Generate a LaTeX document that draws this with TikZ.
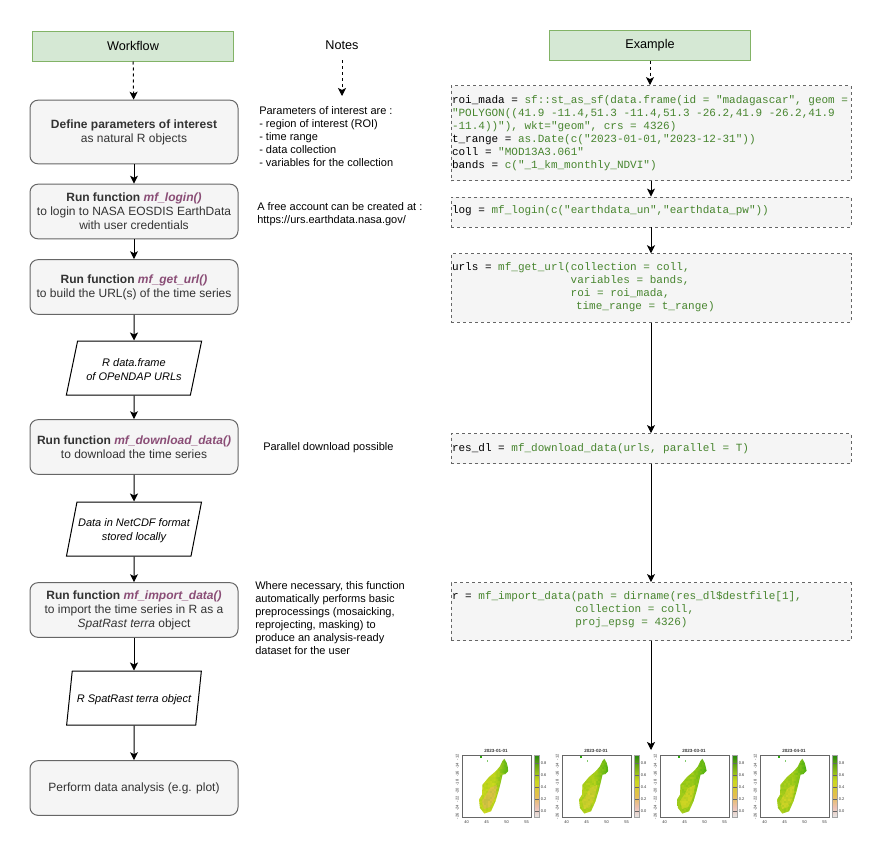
\documentclass[tikz,border=0pt]{standalone}
\usepackage{fontspec}
\setmainfont{Liberation Sans}
\setmonofont{Liberation Mono}
\usepackage{xcolor}
\usetikzlibrary{positioning,arrows.meta,shapes.geometric}

\definecolor{boxfill}{HTML}{F5F5F5}
\definecolor{boxline}{HTML}{666666}
\definecolor{boxtext}{HTML}{333333}
\definecolor{headfill}{HTML}{D5E8D4}
\definecolor{headline}{HTML}{82B366}
\definecolor{funcname}{HTML}{8A4D76}
\definecolor{codegreen}{HTML}{47852E}
\definecolor{mapgreen}{HTML}{2FA80E}
\definecolor{mapyellow}{HTML}{CBD81E}
\definecolor{maporange}{HTML}{E3BE4E}
\definecolor{mappink}{HTML}{EDBFB0}

\newcommand{\func}[1]{\textcolor{funcname}{\textbf{\textit{#1}}}}
\newcommand{\cg}[1]{\textcolor{codegreen}{#1}}
\newcommand{\lift}[1]{\rule[-#1]{0pt}{0pt}}
\newcommand{\drop}{\rule{0pt}{9pt}}
\newcommand{\islandpath}{(42.3,3.7) -- (44.7,8) -- (46.6,15.7) -- (43.5,19) -- (40.5,19.7) -- (39,26.3) -- (36.5,36.3) -- (33.5,46.3) -- (29,56.3) -- (22.3,58.5) -- (18,53) -- (17,44.7) -- (20,39.7) -- (20.5,29.7) -- (27,22) -- (34,16) -- (38,11.3) -- (40.3,6.3) -- cycle}

\tikzset{
    headbox/.style={draw=headline, fill=headfill, line width=0.75pt, minimum width=151pt, minimum height=22.5pt, inner sep=0pt, font=\fontsize{9.5}{11}\selectfont},
    stepbox/.style={draw=boxline, fill=boxfill, text=boxtext, rounded corners=6pt, line width=0.75pt, minimum width=156pt, inner sep=0pt, align=center, font=\fontsize{9}{10.5}\selectfont},
    databox/.style={draw=black, trapezium, trapezium left angle=70, trapezium right angle=110, trapezium stretches=true, line width=0.75pt, minimum width=102pt, minimum height=40.5pt, inner sep=0pt, align=center, font=\fontsize{8.25}{10.5}\selectfont\itshape},
    notetext/.style={anchor=west, align=left, inner sep=0pt, font=\fontsize{8.25}{9.75}\selectfont},
    codebox/.style={draw=boxline, fill=boxfill, dash pattern=on 2.25pt off 2.25pt, line width=0.6pt, minimum width=300pt, text width=298.5pt, inner sep=0.75pt, align=flush left, font=\fontsize{8.25}{9.75}\ttfamily},
    flow/.style={-{Stealth[length=6pt,width=6pt,inset=1.5pt]}, line width=0.75pt, black},
    flowdash/.style={flow, dash pattern=on 2.25pt off 2.25pt},
    maptext/.style={inner sep=0pt, text=boxtext, font=\fontsize{3}{3}\selectfont}
}

\begin{document}
\begin{tikzpicture}[x=0.75pt, y=-0.75pt]
    \useasboundingbox (0,0) rectangle (882,857);

    % Headers
    \node[headbox] (workflow) at (133,46) {Workflow};
    \node[inner sep=0pt, minimum height=22.5pt, font=\fontsize{9.5}{11}\selectfont] (notes) at (342,45) {Notes};
    \node[headbox] (example) at (650,45) {Example};

    % Workflow
    \node[stepbox, minimum height=47.75pt] (define) at (134,132) {\textbf{Define parameters of interest}\\as natural R objects};
    \node[stepbox, minimum height=41pt] (login) at (134,211.5) {\textbf{Run function} \func{mf\_login()}\\to login to NASA EOSDIS EarthData\\with user credentials};
    \node[stepbox, minimum height=41pt] (geturl) at (134,287) {\textbf{Run function} \func{mf\_get\_url()}\\to build the URL(s) of the time series};
    \node[databox] (urldf) at (134,368) {\drop R data.frame\\of OPeNDAP URLs};
    \node[stepbox, minimum height=41pt] (download) at (134,447) {\textbf{Run function} \func{mf\_download\_data()}\\to download the time series};
    \node[databox] (netcdf) at (134,529) {\drop Data in NetCDF format\\stored locally};
    \node[stepbox, minimum height=41pt] (import) at (134,610) {\textbf{Run function} \func{mf\_import\_data()}\\to import the time series in R as a\\\textit{SpatRast terra} object};
    \node[databox] (spatrast) at (134,698) {\drop R SpatRast terra object};
    \node[stepbox, minimum height=41pt] (analysis) at (134,788) {Perform data analysis (e.g. plot)};

    % Notes
    \node[notetext] (noteparams) at (259,136.5) {Parameters of interest are :\\- region of interest (ROI)\\- time range\\- data collection\\- variables for the collection};
    \node[notetext] (noteaccount) at (257,214) {A free account can be created at :\\https://urs.earthdata.nasa.gov/};
    \node[notetext] (noteparallel) at (263,447.5) {Parallel download possible};
    \node[notetext] (noteimport) at (255,618) {Where necessary, this function\\automatically performs basic\\preprocessings (mosaicking,\\reprojecting, masking) to\\produce an analysis-ready\\dataset for the user};
    \coordinate (notesend) at (342,96);

    % Example
    \node[codebox, minimum height=71.25pt] (roi) at (651,133) {roi\_mada = \cg{sf::st\_as\_sf(data.frame(id = "madagascar", geom =}\\\cg{"POLYGON((41.9 -11.4,51.3 -11.4,51.3 -26.2,41.9 -26.2,41.9}\\\cg{-11.4))"), wkt="geom", crs = 4326)}\\t\_range = \cg{as.Date(c("2023-01-01,"2023-12-31"))}\\coll = \cg{"MOD13A3.061"}\\bands = \cg{c("\_1\_km\_monthly\_NDVI")}};
    \node[codebox, minimum height=22.5pt] (log) at (651,212) {log = \cg{mf\_login(c("earthdata\_un","earthdata\_pw"))\lift{3pt}}};
    \node[codebox, minimum height=51.5pt] (urls) at (651,288) {urls = \cg{mf\_get\_url(collection = coll,}\\\hspace*{89pt}\cg{variables = bands,}\\\hspace*{89pt}\cg{roi = roi\_mada,}\\\hspace*{93pt}\cg{time\_range = t\_range)\lift{3pt}}};
    \node[codebox, minimum height=22.5pt] (resdl) at (651,448.5) {res\_dl = \cg{mf\_download\_data(urls, parallel = T)\lift{2pt}}};
    \node[codebox, minimum height=43.5pt] (rast) at (651,611.5) {r = \cg{mf\_import\_data(path = dirname(res\_dl\$destfile[1],}\\\hspace*{92.5pt}\cg{collection = coll,}\\\hspace*{92.5pt}\cg{proj\_epsg = 4326)\lift{5pt}}};
    \coordinate (maps) at (651,750);

    % Connections
    \draw[flowdash] (workflow) -- (define);
    \draw[flow] (define) -- (login);
    \draw[flow] (login) -- (geturl);
    \draw[flow] (geturl) -- (urldf);
    \draw[flow] (urldf) -- (download);
    \draw[flow] (download) -- (netcdf);
    \draw[flow] (netcdf) -- (import);
    \draw[flow] (import) -- (spatrast);
    \draw[flow] (spatrast) -- (analysis);
    \draw[flowdash] (notes) -- (notesend);
    \draw[flowdash] (example.south) -- (example.south |- roi.north);
    \draw[flow] (roi) -- (log);
    \draw[flow] (log) -- (urls);
    \draw[flow] (urls) -- (resdl);
    \draw[flow] (resdl) -- (rast);
    \draw[flow] (rast) -- (maps);

    % Maps
    \pgfmathsetseed{11}
    \foreach \px/\mon/\midc/\southc in {462/01/mapyellow/maporange, 562/02/mapyellow!85!mapgreen/mapyellow!60!maporange, 660/03/mapyellow!70!mapgreen/mapyellow!85!maporange, 760/04/mapyellow!75!mapgreen/mapyellow!80!maporange} {
        \begin{scope}[shift={(\px,755)}]
            \begin{scope}
                \clip \islandpath;
                \shade[left color=\midc, right color=mapgreen, middle color=\midc] (16,2) rectangle (48,60);
                \fill[\southc] (28,33) -- (35,30) -- (33,42) -- (28,52) -- (22,54) -- (20,46) -- (24,40) -- cycle;
                % mottling of the raster
                \foreach \cx in {16,18,...,46}
                    \foreach \cy in {2,4,...,58} {
                        \pgfmathtruncatemacro\mixv{random(0,60)}
                        \fill[mapgreen!\mixv!mapyellow, opacity=0.25] (\cx,\cy) rectangle +(2,2);
                    }
            \end{scope}
            \fill[mapgreen] (18,1) rectangle (19.5,3);
            \fill[mapgreen!60] (25,5) rectangle (26,6.5);
            \draw[boxline, line width=0.6pt] (0,0) rectangle (69,62);
            \node[maptext, font=\fontsize{3.4}{3.4}\selectfont\bfseries] at (34,-4) {2023-\mon-01};
            % colour bar
            \shade[top color=mapgreen!80!black, bottom color=mapyellow] (72,0) rectangle (77,26);
            \shade[top color=mapyellow, bottom color=maporange] (72,26) rectangle (77,40);
            \shade[top color=maporange, bottom color=mappink] (72,40) rectangle (77,52);
            \shade[top color=mappink, bottom color=white!90!black] (72,52) rectangle (77,62);
            \foreach \yy/\lab in {8/0.8, 20/0.6, 32/0.4, 44/0.2, 56/0.0} {
                \draw[boxline, line width=0.3pt] (72,\yy) -- (77,\yy);
                \node[maptext, anchor=west] at (78.5,\yy) {\lab};
            }
            \draw[boxline!60, line width=0.3pt] (72,0) rectangle (77,62);
            % axes
            \foreach \xx/\lab in {4.7/40, 24.7/45, 44.7/50, 64.7/55}
                \node[maptext] at (\xx,66.7) {\lab};
            \foreach \yy/\lab in {2.3/-12, 10.7/-14, 19.1/-16, 27.5/-18, 35.9/-20, 44.3/-22, 52.7/-24, 61.1/-26}
                \node[maptext, rotate=90] at (-4.7,\yy) {\lab};
        \end{scope}
    }
\end{tikzpicture}
\end{document}
